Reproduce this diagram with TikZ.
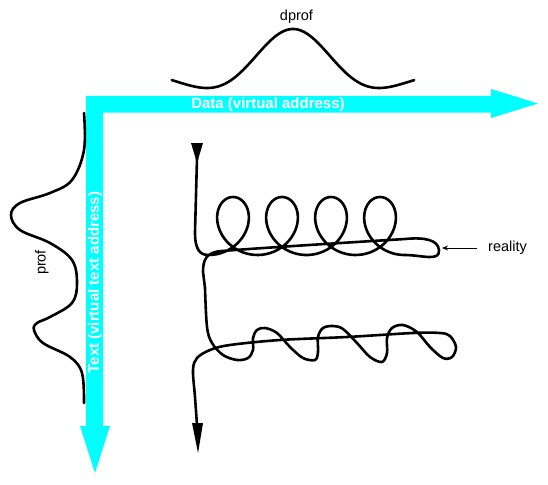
\documentclass[tikz,border=0pt]{standalone}
\usepackage{fontspec}
\setmainfont{Liberation Sans}
\usetikzlibrary{arrows.meta}
\definecolor{axiscyan}{HTML}{00FFFF}
\begin{document}
\begin{tikzpicture}[x=1pt,y=-1pt,
  curve/.style={line width=2.6pt, line cap=round, line join=round},
  lbl/.style={font=\fontsize{14.5}{17}\selectfont, inner sep=0pt},
  axislbl/.style={font=\bfseries\fontsize{15}{18}\selectfont, text=white, inner sep=0pt},
  tipfill/.style={fill=black}]
\useasboundingbox (0,0) rectangle (548,484);
% cyan axes
\fill[axiscyan] (86,96) -- (491,96) -- (491,89) -- (538,103.5) -- (491,118) -- (491,112.7)
  -- (103,112.7) -- (103,426) -- (110,426) -- (95,473) -- (80,426) -- (86,426) -- cycle;
\node[axislbl] (datalbl) at (268,104.5) {Data (virtual address)};
\node[axislbl, rotate=90] (textlbl) at (95,282.5) {Text (virtual text address)};
% dprof curve
\draw[curve] plot[domain=-2.44:2.44, samples=100, smooth]
  ({293+49.7*\x}, {69.8-40.8*(1-\x*\x)*exp(-\x*\x/2)});
\node[lbl] (dproflbl) at (296.5,17) {dprof};
% prof curve
\draw[curve] plot[smooth, tension=0.6] coordinates {(84,113) (84,150) (72,180) (50,193) (20,203)
  (11,215) (20,230) (50,243) (72,260) (77,283) (72,303) (50,317) (37,323) (34,330) (43,343)
  (70,357) (82,373) (84,403)};
\node[lbl, rotate=90] (proflbl) at (42,262.5) {prof};
% reality path, first section
\fill[tipfill] (191,143) -- (203,143) -- (197,163) -- cycle;
\draw[curve] (197,158) -- (195,232) .. controls (195,250) and (200,255) .. (208.5,255)
  -- plot[domain=-pi:7*pi, samples=220] ({233+7.8*\x-27*sin(\x r)}, {226-29*cos(\x r)})
  .. controls (422,255) and (440,262) .. (439,250)
  .. controls (438,240) and (425,237) .. (405,239)
  .. controls (340,243) and (260,248) .. (222,251)
  .. controls (206,252) and (203,260) .. (203,272) -- (205,288);
% second section
\draw[curve] plot[smooth, tension=0.55] coordinates {(205,288) (207,327) (212,343) (223,355)
  (237,360) (248,358) (253,350) (253,338) (257,330) (265,328) (277,333) (290,347) (303,358)
  (315,360) (318,352) (318,337) (323,328) (333,326) (343,329) (357,343) (370,357) (382,362)
  (387,353) (387,338) (392,328) (403,325) (417,332) (430,347) (443,358) (452,357) (456,347)
  (450,336) (440,333) (413,333) (347,337) (280,340) (230,345) (210,350) (197,358) (193,370)
  (195,397) (197,425)};
\fill[tipfill] (192,423) -- (203,423) -- (198,453) -- cycle;
% reality label
\node[lbl, anchor=west] (reality) at (488,248) {reality};
\coordinate (realtip) at (442,248);
\draw[line width=0.8pt, shorten <=11pt, -{Stealth[length=6pt,width=5pt]}] (reality.west) -- (realtip);
\end{tikzpicture}
\end{document}
